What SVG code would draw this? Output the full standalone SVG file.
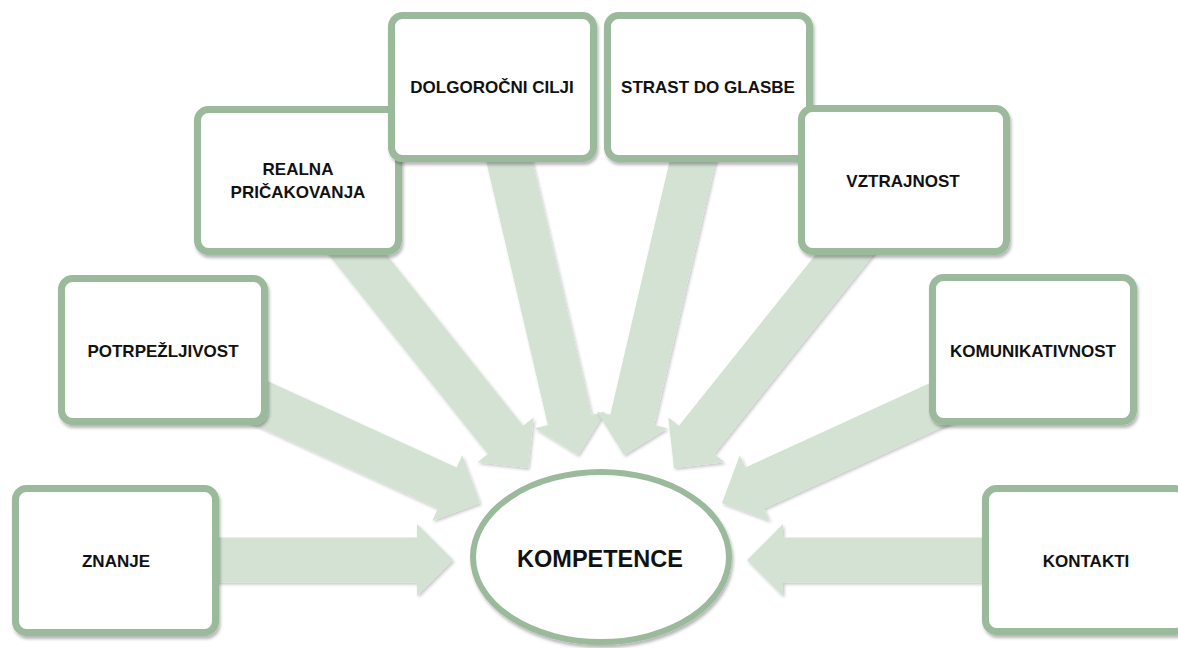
<svg xmlns="http://www.w3.org/2000/svg" width="1178" height="648" viewBox="0 0 1178 648">
  <defs>
    <filter id="sh" x="-10%" y="-10%" width="130%" height="130%">
      <feDropShadow dx="1.5" dy="3" stdDeviation="1.8" flood-color="#000" flood-opacity="0.28"/>
    </filter>
    <filter id="ash" x="-10%" y="-10%" width="130%" height="130%">
      <feDropShadow dx="1.5" dy="2" stdDeviation="1.5" flood-color="#000" flood-opacity="0.22"/>
    </filter>
  </defs>
  <style>
    .box { fill: #ffffff; stroke: #9bba9b; stroke-width: 7; filter: url(#sh); }
    .arrow { fill: #d3e2d3; stroke: none; filter: url(#ash); }
    .lbl { font-family: "Liberation Sans", Arial, sans-serif; font-weight: bold; font-size: 17px; fill: #111; text-anchor: middle; }
    .big { font-family: "Liberation Sans", Arial, sans-serif; font-weight: bold; font-size: 23.5px; fill: #111; text-anchor: middle; }
  </style>
  <rect width="1178" height="648" fill="#ffffff"/>

  <g id="connectors">
    <polygon class="arrow" points="116,582.5 417,582.5 417,596 453,560 417,524 417,537.5 116,537.5"/>
    <polygon class="arrow" points="1086,582.5 783,582.5 783,596 747,560 783,524 783,537.5 1086,537.5"/>
    <polygon class="arrow" points="153.64,378.46 437.90,508.48 432.28,520.76 480,503 462.24,455.28 456.62,467.56 172.36,337.54"/>
    <polygon class="arrow" points="1048.36,378.46 764.10,508.48 769.72,520.76 722,503 739.76,455.28 745.38,467.56 1029.64,337.54"/>
    <polygon class="arrow" points="280.42,194.04 487.96,453.91 477.41,462.33 528,468 533.67,417.41 523.12,425.83 315.58,165.96"/>
    <polygon class="arrow" points="921.58,194.04 714.04,453.91 724.59,462.33 674,468 668.33,417.41 678.88,425.83 886.42,165.96"/>
    <polygon class="arrow" points="470.09,92.12 547.90,425.06 534.75,428.13 578,455 604.87,411.75 591.72,414.82 513.91,81.88"/>
    <polygon class="arrow" points="731.91,92.12 654.10,425.06 667.25,428.13 624,455 597.13,411.75 610.28,414.82 688.09,81.88"/>
  </g>

  <g id="node-znanje">
    <rect class="box" x="15.5" y="488.5" width="200" height="144" rx="11"/>
    <text class="lbl" x="116" y="567">ZNANJE</text>
  </g>
  <g id="node-kontakti">
    <rect class="box" x="985.5" y="488.5" width="201" height="143" rx="11"/>
    <text class="lbl" x="1086" y="567">KONTAKTI</text>
  </g>
  <g id="node-potrpezljivost">
    <rect class="box" x="61.5" y="278.5" width="203" height="143" rx="11"/>
    <text class="lbl" x="163" y="357">POTRPEŽLJIVOST</text>
  </g>
  <g id="node-komunikativnost">
    <rect class="box" x="932.5" y="277.5" width="201" height="144" rx="11"/>
    <text class="lbl" x="1033" y="357">KOMUNIKATIVNOST</text>
  </g>
  <g id="node-realna">
    <rect class="box" x="197.5" y="109.5" width="201" height="142" rx="11"/>
    <text class="lbl" x="298" y="175">REALNA</text>
    <text class="lbl" x="298" y="198">PRIČAKOVANJA</text>
  </g>
  <g id="node-dolgorocni">
    <rect class="box" x="391.5" y="15.5" width="202" height="143" rx="11"/>
    <text class="lbl" x="492" y="93">DOLGOROČNI CILJI</text>
  </g>
  <g id="node-strast">
    <rect class="box" x="607.5" y="15.5" width="202" height="143" rx="11"/>
    <text class="lbl" x="708" y="93">STRAST DO GLASBE</text>
  </g>
  <g id="node-vztrajnost">
    <rect class="box" x="801.5" y="108.5" width="205" height="143" rx="11"/>
    <text class="lbl" x="903" y="187">VZTRAJNOST</text>
  </g>
  <g id="node-kompetence">
    <ellipse cx="601" cy="557" rx="128" ry="85" fill="#ffffff" stroke="#9bba9b" stroke-width="6" filter="url(#sh)"/>
    <text class="big" x="600" y="567">KOMPETENCE</text>
  </g>
</svg>
